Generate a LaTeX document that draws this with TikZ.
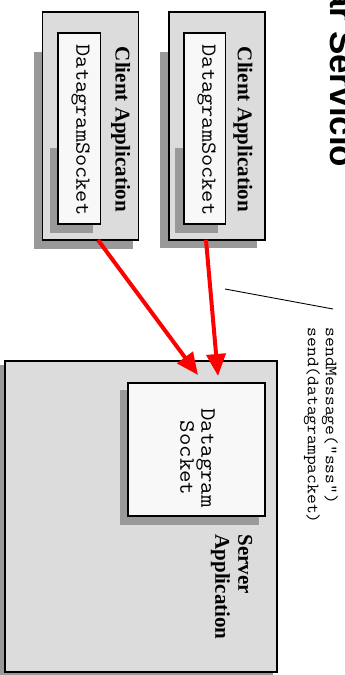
\documentclass[tikz,border=0pt]{standalone}
\usepackage{fontspec}
\newfontfamily\serifrm{Liberation Serif}
\newfontfamily\monorm{Latin Modern Mono}[FakeStretch=1.1]
\newfontfamily\sansrm{Liberation Sans}
\usetikzlibrary{arrows.meta, positioning}
\definecolor{cbox}{HTML}{DCDCDC}
\definecolor{cshadow}{HTML}{999999}
\definecolor{csock}{HTML}{F8F8F8}
\definecolor{cred}{HTML}{FF0000}
\newcommand\appfont{\fontsize{21}{23}\selectfont\serifrm\bfseries}
\newcommand\sockfont{\fontsize{21.5}{21}\selectfont\monorm}
\newcommand\callfont{\fontsize{17.3}{18}\selectfont\monorm}
\newcommand\ttlfont{\fontsize{35}{40}\selectfont\sansrm\bfseries}
\tikzset{
  every picture/.style={line width=1.2pt},
  appbox/.style={draw=black, fill=cbox, inner sep=0pt, outer sep=0pt},
  sockbox/.style={draw=black, fill=csock, inner sep=0pt, outer sep=0pt},
  dropshade/.style={fill=cshadow, draw=none},
  applabel/.style={rotate=-90, font=\appfont, inner sep=0pt},
  socklabel/.style={rotate=-90, font=\sockfont, inner sep=0pt, align=center},
  call/.style={rotate=-90, font=\callfont, inner sep=0pt, align=left},
  ttl/.style={rotate=-90, font=\ttlfont, inner sep=0pt},
  msg/.style={-{Triangle[length=22pt, width=19pt]}, draw=cred, line width=4pt},
  lead/.style={draw=black, line width=0.9pt},
}

\begin{document}
\begin{tikzpicture}[x=1pt, y=-1pt]
  \useasboundingbox (0,0) rectangle (345,675);
  \clip (0,0) rectangle (345,675);
  \fill[white] (0,0) rectangle (345,675);

  \fill[dropshade] (34,52) rectangle (133,249);
  \node[appbox, minimum width=96pt, minimum height=228pt] (cl1) at (90.5,126) {};
  \fill[dropshade] (50,148) rectangle (93,233);
  \node[sockbox, minimum width=42.7pt, minimum height=191pt] (cs1) at (79.3,128.5) {};
  \node[socklabel] (cs1t) at (80.7,130) {DatagramSocket};
  \node[applabel] (cl1t) at (120.7,129.5) {Client Application};

  \fill[dropshade] (160,52) rectangle (257,248);
  \node[appbox, minimum width=96pt, minimum height=228pt] (cl2) at (217,126) {};
  \fill[dropshade] (175,148) rectangle (218,233);
  \node[sockbox, minimum width=41.7pt, minimum height=191pt] (cs2) at (204.8,128.5) {};
  \node[socklabel] (cs2t) at (206.7,130) {DatagramSocket};
  \node[applabel] (cl2t) at (243,129.5) {Client Application};

  \fill[dropshade] (0,365) rectangle (273,675);
  \node[appbox, minimum width=272pt, minimum height=311pt] (srv) at (141,516.5) {};
  \fill[dropshade] (120,390) rectangle (259,525);
  \node[sockbox, minimum width=137pt, minimum height=133pt] (ss) at (196.5,449.5) {};
  \node[socklabel, font=\fontsize{22}{21}\selectfont\monorm] (sst) at (197.5,458) {Datagram\\Socket};
  \node[applabel, align=left, anchor=west] (srvt) at (231.5,534) {Server\\Application};

  \draw[msg] ([xshift=7.5pt]cl1.south) -- ([xshift=1.5pt, yshift=8pt]ss.north);
  \draw[msg] ([xshift=-11pt]cl2.south) -- ([xshift=21.5pt, yshift=7pt]ss.north);

  \coordinate (leadA) at (225,289);
  \coordinate (leadB) at (333,309);
  \draw[lead] (leadA) -- (leadB);
  \node[call, anchor=west] (calls) at (321,327) {sendMessage(“sss”)\\send(datagrampacket)};

  \node[ttl, anchor=base east] (title) at (330.5,168) {Solicitar Servicio};
\end{tikzpicture}
\end{document}
